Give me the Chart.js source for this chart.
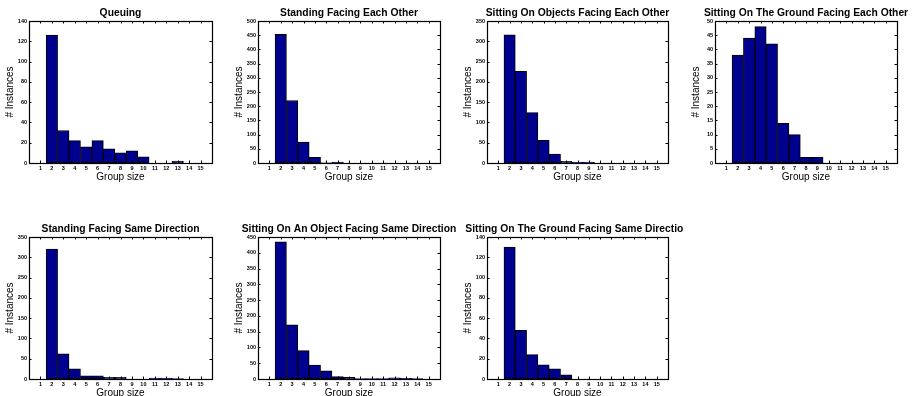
<!DOCTYPE html>
<html>
<head>
<meta charset="utf-8">
<script src="https://cdn.jsdelivr.net/npm/chart.js@4/dist/chart.umd.min.js"></script>
<style>
  html, body { margin: 0; padding: 0; background: #fff; width: 914px; height: 396px; overflow: hidden; }
  .cell { position: absolute; overflow: hidden; }
  canvas { display: block; }
</style>
</head>
<body>
<div id="root"></div>
<script>
// ---- data ----
const categories = [1, 2, 3, 4, 5, 6, 7, 8, 9, 10, 11, 12, 13, 14, 15];
const titles = [
  'Queuing',
  'Standing Facing Each Other',
  'Sitting On Objects Facing Each Other',
  'Sitting On The Ground Facing Each Other',
  'Standing Facing Same Direction',
  'Sitting On An Object Facing Same Direction',
  'Sitting On The Ground Facing Same Direction'
];
const queuing                 = [0, 126, 32, 22, 16, 22, 14, 10, 12, 6, 0, 0, 2, 0, 0];
const standingFacingEachOther = [0, 453, 220, 74, 20, 1, 3, 0, 0, 0, 0, 0, 0, 0, 0];
const sittingObjectsFacingEachOther = [0, 316, 226, 124, 56, 22, 4, 2, 2, 0, 0, 0, 0, 0, 0];
const sittingGroundFacingEachOther  = [0, 38, 44, 48, 42, 14, 10, 2, 2, 0, 0, 0, 0, 0, 0];
const standingSameDirection   = [0, 320, 62, 25, 8, 8, 4, 4, 0, 0, 2, 2, 1, 0, 0];
const sittingObjectSameDirection = [0, 435, 172, 90, 44, 26, 8, 5, 1, 1, 1, 4, 2, 1, 0];
const sittingGroundSameDirection = [0, 130, 48, 24, 14, 10, 4, 0, 0, 0, 0, 0, 0, 0, 0];
const yMaxes  = [140, 500, 350, 50, 350, 450, 140];
const ySteps  = [20, 50, 50, 5, 50, 50, 20];
const xLabel = 'Group size';
const yLabel = '# Instances';

const seriesList = [queuing, standingFacingEachOther, sittingObjectsFacingEachOther,
  sittingGroundFacingEachOther, standingSameDirection, sittingObjectSameDirection,
  sittingGroundSameDirection];

// ---- layout ----
const FONT = "'Liberation Sans', Arial, Helvetica, sans-serif";
const plotLefts  = [29, 258, 487, 715];
const plotWidths = [183, 182, 181, 182];
const rowPlotTops = [21, 237];
const SIDE = 29, TITLE_H = 21, PLOT_H = 142, XAXIS_H = 22;
const clipRight = [null, null, null, null, null, null, 684];

const boxPlugin = {
  id: 'matlabBox',
  afterDraw(chart) {
    const {ctx, chartArea: a, scales} = chart;
    const tl = 2.5;
    ctx.save();
    ctx.strokeStyle = '#000';
    ctx.lineWidth = 1;
    ctx.beginPath();
    scales.x.ticks.forEach(t => {
      const px = Math.round(scales.x.getPixelForValue(t.value)) + 0.5;
      ctx.moveTo(px, a.bottom); ctx.lineTo(px, a.bottom - tl);
      ctx.moveTo(px, a.top); ctx.lineTo(px, a.top + tl);
    });
    scales.y.ticks.forEach(t => {
      const py = Math.round(scales.y.getPixelForValue(t.value)) + 0.5;
      ctx.moveTo(a.left, py); ctx.lineTo(a.left + tl, py);
      ctx.moveTo(a.right, py); ctx.lineTo(a.right - tl, py);
    });
    ctx.stroke();
    ctx.lineWidth = 1.2;
    ctx.strokeRect(Math.round(a.left) + 0.5, Math.round(a.top) + 0.5,
      Math.round(a.right - a.left), Math.round(a.bottom - a.top));
    ctx.restore();
  }
};

Chart.defaults.animation = false;

const root = document.getElementById('root');
seriesList.forEach((vals, i) => {
  const row = i < 4 ? 0 : 1;
  const col = i < 4 ? i : i - 4;
  const W = SIDE + plotWidths[col] + SIDE;
  const H = TITLE_H + PLOT_H + XAXIS_H;
  const left = plotLefts[col] - SIDE;
  const top = rowPlotTops[row] - TITLE_H;
  const cell = document.createElement('div');
  cell.className = 'cell';
  cell.style.left = left + 'px';
  cell.style.top = top + 'px';
  cell.style.width = (clipRight[i] ? clipRight[i] - left : W) + 'px';
  cell.style.height = H + 'px';
  const cv = document.createElement('canvas');
  cv.width = W; cv.height = H;
  cv.style.width = W + 'px'; cv.style.height = H + 'px';
  cell.appendChild(cv);
  root.appendChild(cell);

  new Chart(cv, {
    type: 'bar',
    data: {
      datasets: [{
        data: categories.map((c, k) => ({x: c, y: vals[k]})),
        backgroundColor: '#00008F',
        borderColor: '#000',
        borderWidth: 1,
        borderSkipped: false,
        barPercentage: 1,
        categoryPercentage: 1
      }]
    },
    options: {
      responsive: false,
      devicePixelRatio: 1,
      layout: {padding: 0},
      plugins: {
        legend: {display: false},
        tooltip: {enabled: false},
        title: {
          display: true,
          text: titles[i],
          color: '#000',
          font: {family: FONT, size: 10.3, weight: 'bold', lineHeight: 1.2},
          padding: {top: 7, bottom: 1.64}
        }
      },
      scales: {
        x: {
          type: 'linear',
          min: 0, max: 16,
          offset: false,
          grid: {display: false, drawTicks: false, offset: false},
          border: {display: false},
          ticks: {
            stepSize: 1,
            autoSkip: false,
            maxRotation: 0,
            padding: 2,
            color: '#000',
            font: {family: FONT, size: 5.5, weight: 'bold'},
            callback: v => (v >= 1 && v <= 15) ? String(v) : ''
          },
          title: {
            display: true, text: xLabel, color: '#000',
            font: {family: FONT, size: 10, lineHeight: 1.2},
            padding: {top: 0, bottom: 2}
          },
          afterFit: s => { s.height = XAXIS_H; }
        },
        y: {
          type: 'linear',
          position: 'left',
          min: 0, max: yMaxes[i],
          grid: {display: false, drawTicks: false},
          border: {display: false},
          ticks: {
            stepSize: ySteps[i],
            padding: 2,
            color: '#000',
            font: {family: FONT, size: 5.5, weight: 'bold'}
          },
          title: {
            display: true, text: yLabel, color: '#000',
            font: {family: FONT, size: 10, lineHeight: 1.2},
            padding: {top: 4, bottom: 0}
          },
          afterFit: s => { s.width = SIDE; }
        },
        yRight: {
          type: 'linear',
          position: 'right',
          min: 0, max: yMaxes[i],
          display: true,
          grid: {display: false, drawTicks: false},
          border: {display: false},
          ticks: {display: false},
          afterFit: s => { s.width = SIDE; }
        }
      }
    },
    plugins: [boxPlugin]
  });
});
</script>
</body>
</html>
